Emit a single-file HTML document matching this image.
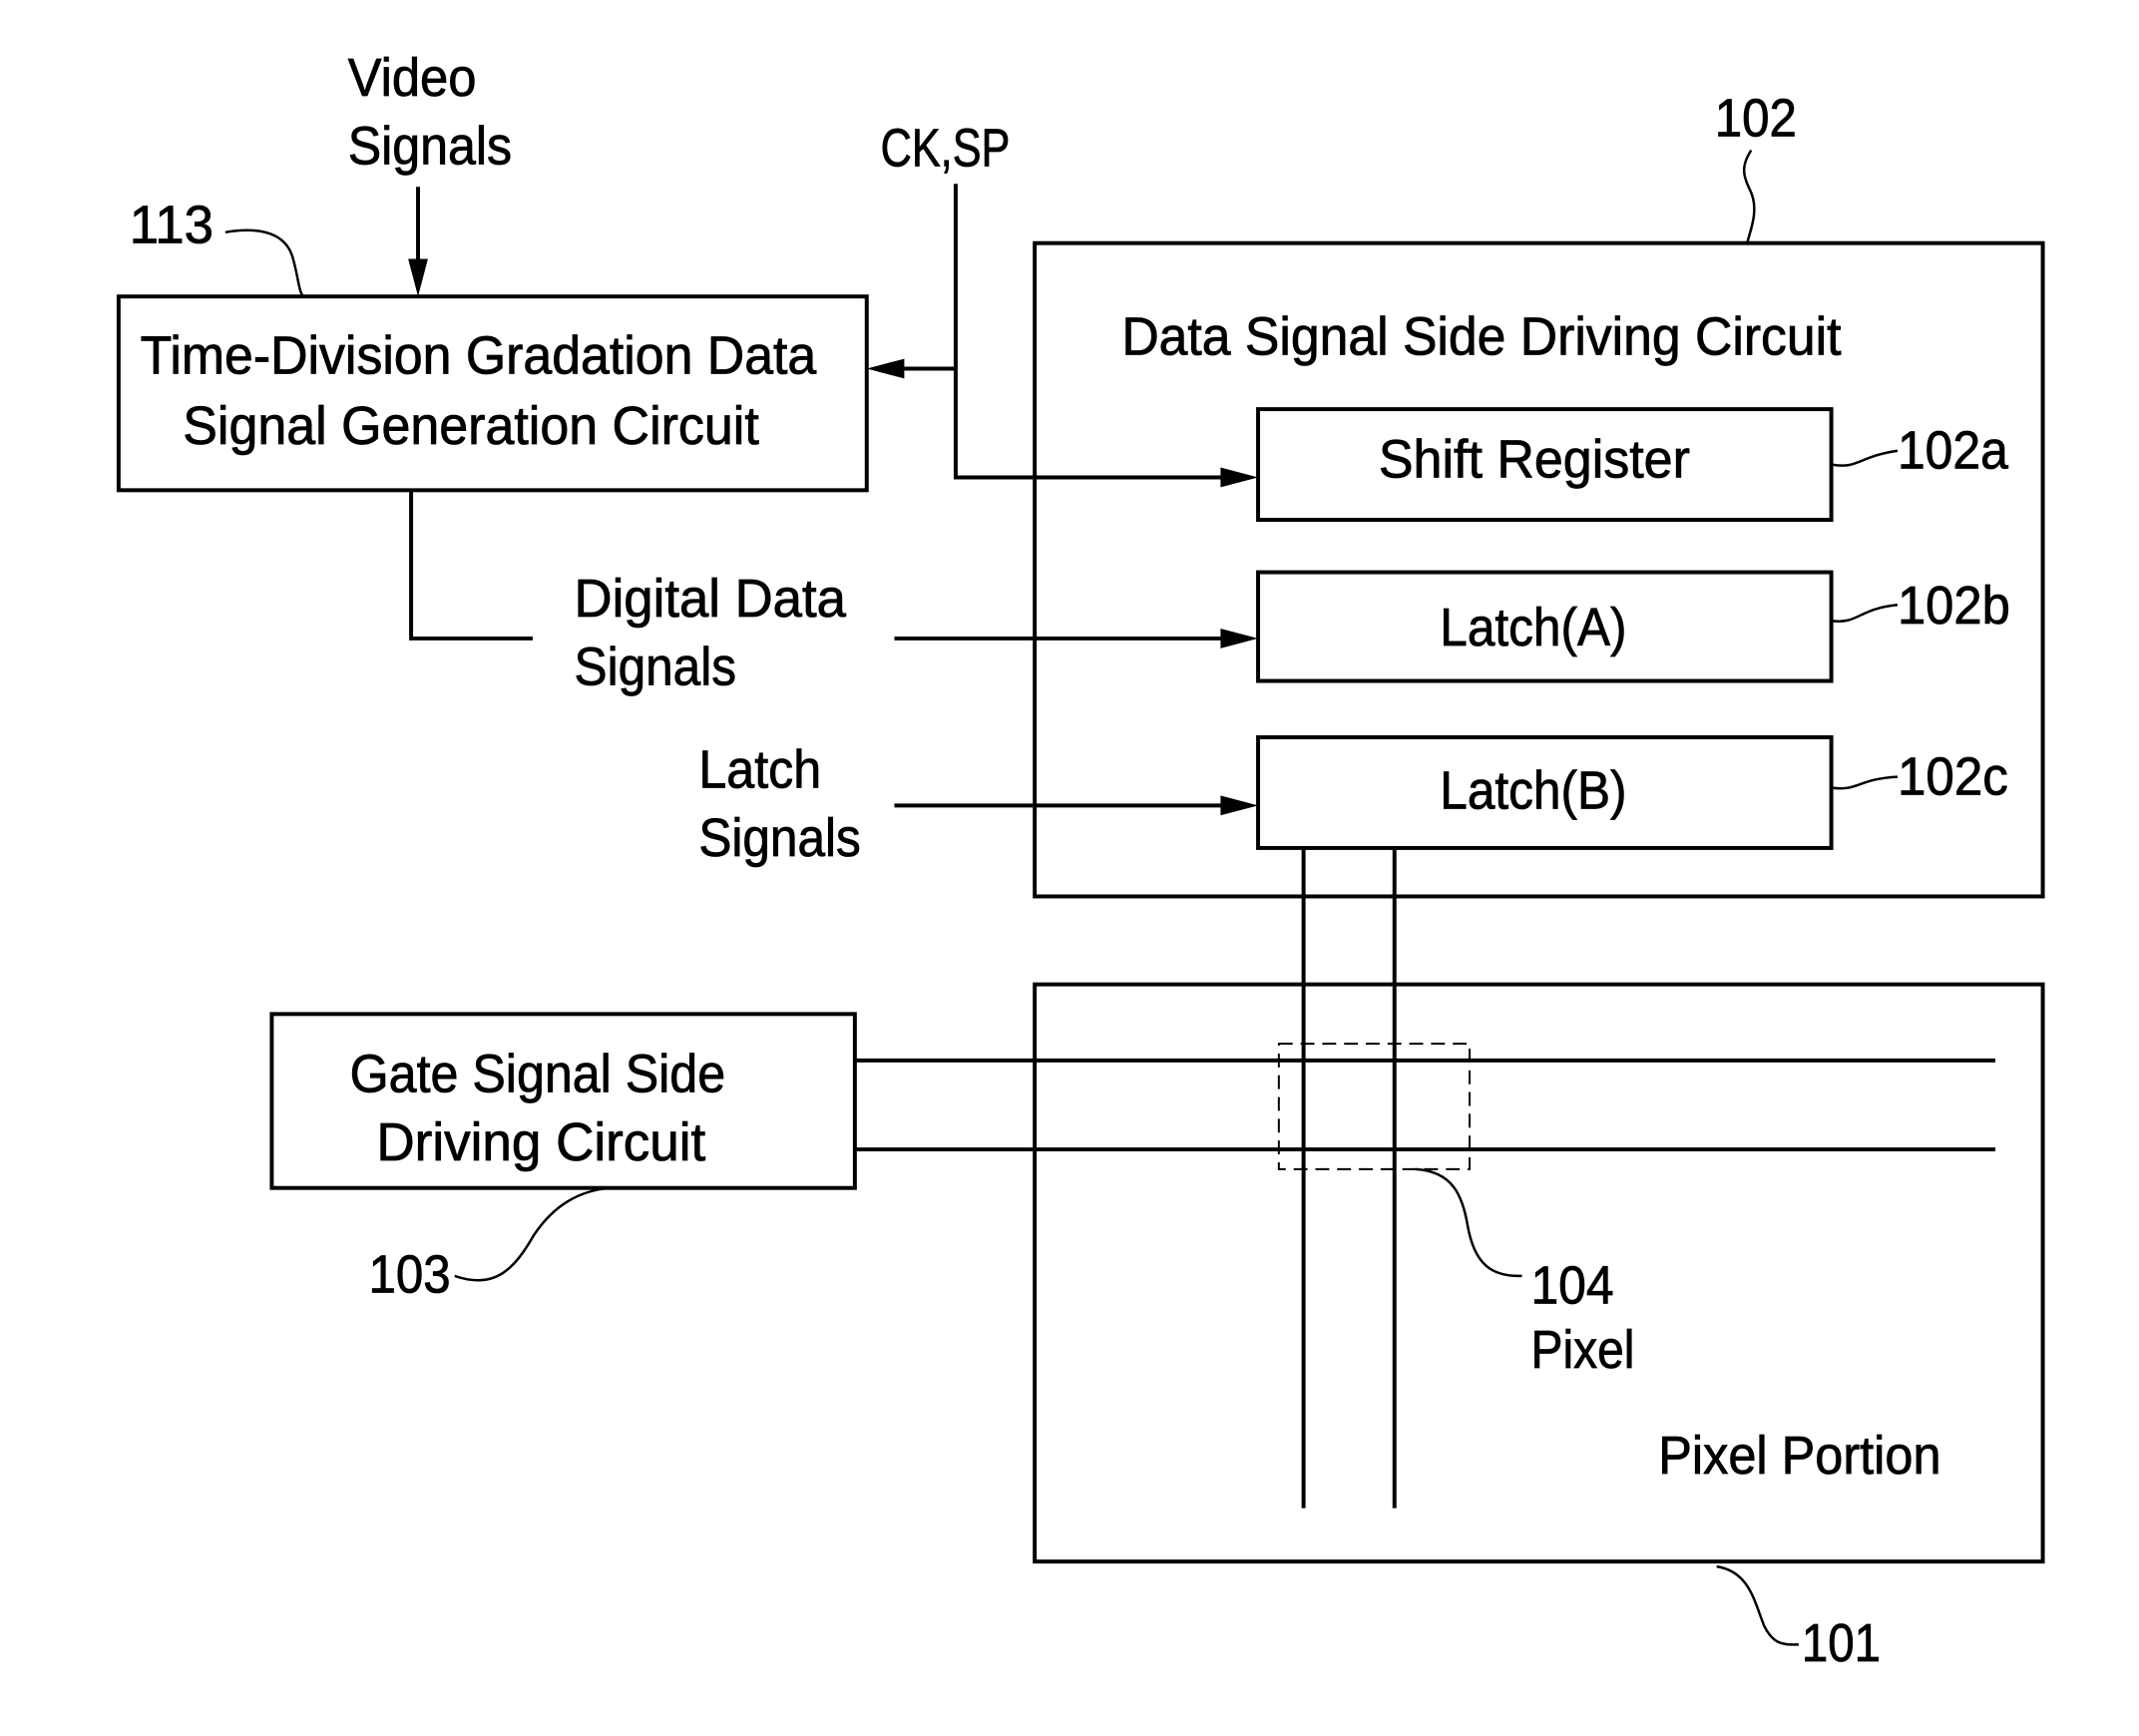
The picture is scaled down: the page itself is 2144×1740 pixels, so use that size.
<!DOCTYPE html>
<html><head><style>body{margin:0;background:#fff}svg{display:block}</style></head><body>
<svg width="2144" height="1740" viewBox="0 0 2144 1740" xmlns="http://www.w3.org/2000/svg">
<g transform="scale(0.9906)">
<g fill="none" stroke="#000" stroke-width="4">
<rect x="120" y="300" width="757" height="196"/>
<rect x="1047" y="246" width="1020" height="661"/>
<rect x="1273" y="414" width="580" height="112"/>
<rect x="1273" y="579" width="580" height="110"/>
<rect x="1273" y="746" width="580" height="112"/>
<rect x="1047" y="996" width="1020" height="584"/>
<rect x="275" y="1026" width="590" height="176"/>
<path d="M865 1073H2019M865 1163H2019M1319 858V1526M1411 858V1526"/>
<rect x="1294" y="1056" width="193" height="127" stroke-width="2" stroke-dasharray="14,8"/>
<path d="M423 189V272"/>
<path d="M967 186V483H1240M967 373H912"/>
<path d="M416 496V646H539M905 646H1240M905 815H1240"/>
<g stroke-width="2.5">
<path d="M228 235C270 228 290 240 296 260C302 280 302 295 307 300"/>
<path d="M1772 152C1760 170 1765 180 1772 195C1780 215 1770 235 1768 246"/>
<path d="M1853 470C1880 475 1880 462 1920 456"/>
<path d="M1853 628C1880 632 1880 616 1920 612"/>
<path d="M1853 797C1880 801 1880 788 1920 786"/>
<path d="M460 1291C500 1305 520 1285 540 1250C560 1220 585 1205 617 1202"/>
<path d="M1432 1183C1470 1185 1480 1210 1485 1240C1492 1280 1510 1292 1540 1291"/>
<path d="M1737 1585C1770 1590 1775 1620 1785 1645C1795 1665 1805 1664 1820 1664"/>
</g>
</g>
<g fill="#000">
<path d="M423 300L413 262L433 262Z"/>
<path d="M877 373L915 363L915 383Z"/>
<path d="M1273 483L1235 473L1235 493Z"/>
<path d="M1273 646L1235 636L1235 656Z"/>
<path d="M1273 815L1235 805L1235 825Z"/>
</g>
<g font-family="Liberation Sans, sans-serif" font-size="54" fill="#000" stroke="#000" stroke-width="0.8">
<text x="352" y="97" textLength="130" lengthAdjust="spacingAndGlyphs">Video</text>
<text x="352" y="166" textLength="166" lengthAdjust="spacingAndGlyphs">Signals</text>
<text x="131" y="246" textLength="85" lengthAdjust="spacingAndGlyphs">113</text>
<text x="891" y="168" textLength="131" lengthAdjust="spacingAndGlyphs">CK,SP</text>
<text x="1735" y="138" textLength="83" lengthAdjust="spacingAndGlyphs">102</text>
<text x="1135" y="359" textLength="728" lengthAdjust="spacingAndGlyphs">Data Signal Side Driving Circuit</text>
<text x="142" y="378" textLength="684" lengthAdjust="spacingAndGlyphs">Time-Division Gradation Data</text>
<text x="185" y="449" textLength="583" lengthAdjust="spacingAndGlyphs">Signal Generation Circuit</text>
<text x="1395" y="483" textLength="315" lengthAdjust="spacingAndGlyphs">Shift Register</text>
<text x="1920" y="474" textLength="112" lengthAdjust="spacingAndGlyphs">102a</text>
<text x="1457" y="653" textLength="189" lengthAdjust="spacingAndGlyphs">Latch(A)</text>
<text x="1920" y="631" textLength="114" lengthAdjust="spacingAndGlyphs">102b</text>
<text x="1457" y="818" textLength="189" lengthAdjust="spacingAndGlyphs">Latch(B)</text>
<text x="1920" y="804" textLength="112" lengthAdjust="spacingAndGlyphs">102c</text>
<text x="581" y="624" textLength="275" lengthAdjust="spacingAndGlyphs">Digital Data</text>
<text x="581" y="693" textLength="164" lengthAdjust="spacingAndGlyphs">Signals</text>
<text x="707" y="797" textLength="124" lengthAdjust="spacingAndGlyphs">Latch</text>
<text x="707" y="866" textLength="164" lengthAdjust="spacingAndGlyphs">Signals</text>
<text x="354" y="1105" textLength="380" lengthAdjust="spacingAndGlyphs">Gate Signal Side</text>
<text x="381" y="1174" textLength="333" lengthAdjust="spacingAndGlyphs">Driving Circuit</text>
<text x="373" y="1308" textLength="83" lengthAdjust="spacingAndGlyphs">103</text>
<text x="1549" y="1319" textLength="84" lengthAdjust="spacingAndGlyphs">104</text>
<text x="1549" y="1384" textLength="105" lengthAdjust="spacingAndGlyphs">Pixel</text>
<text x="1678" y="1491" textLength="286" lengthAdjust="spacingAndGlyphs">Pixel Portion</text>
<text x="1823" y="1681" textLength="80" lengthAdjust="spacingAndGlyphs">101</text>
</g>
</g>
</svg>
</body></html>
